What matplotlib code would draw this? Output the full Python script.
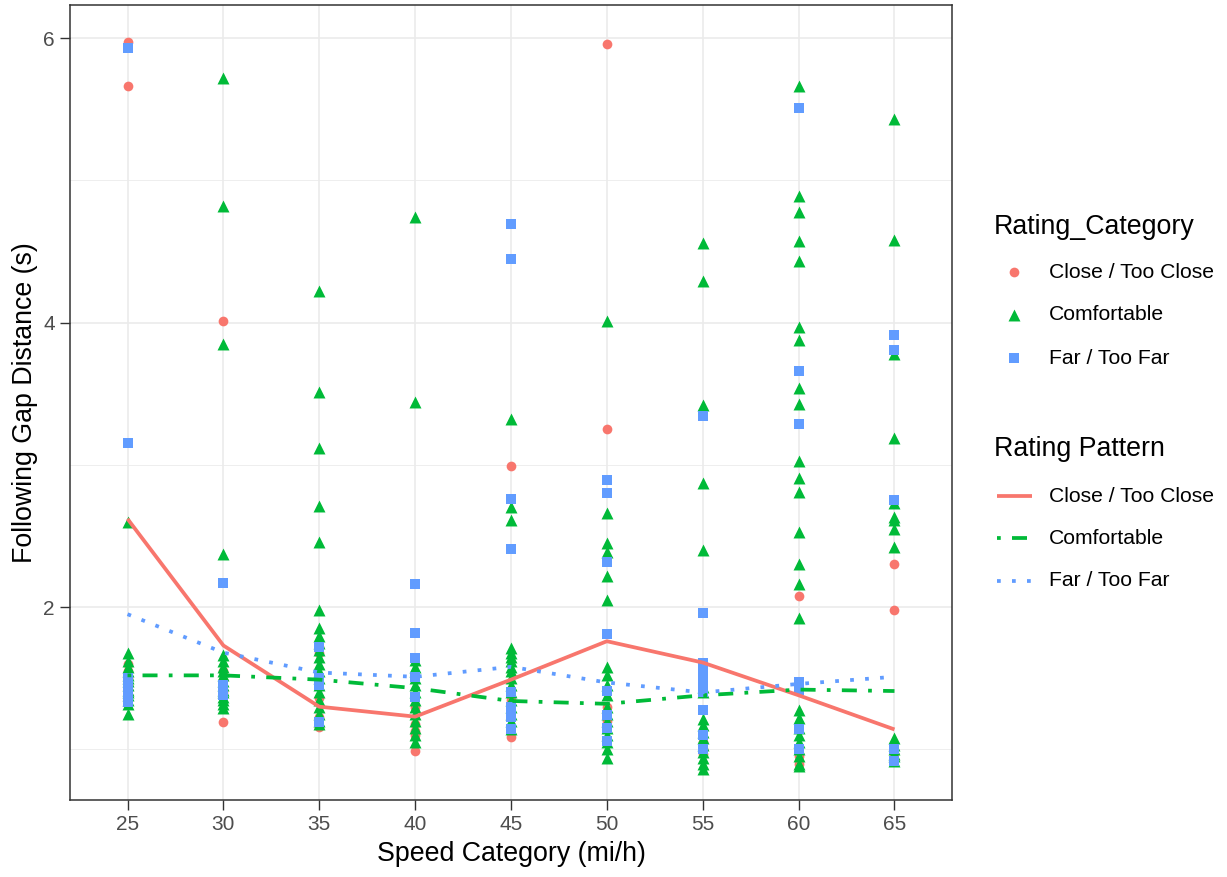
import matplotlib
matplotlib.use("Agg")
import matplotlib.pyplot as plt
from matplotlib.lines import Line2D

plt.rcParams['font.family'] = ['Liberation Sans', 'DejaVu Sans']

speeds = [25, 30, 35, 40, 45, 50, 55, 60, 65]

close_pts = [
    [5.97, 5.66, 1.60, 1.55, 1.50, 1.45, 1.42, 1.38],
    [4.01, 1.55, 1.49, 1.40, 1.19],
    [1.72, 1.68, 1.36, 1.23, 1.16],
    [1.30, 1.18, 1.13, 1.10, 0.99],
    [2.99, 1.42, 1.35, 1.09],
    [5.96, 3.25, 1.30, 1.20],
    [1.05, 1.00, 0.97],
    [2.08, 0.95, 0.90],
    [2.30, 1.98, 0.97],
]
comfortable_pts = [
    [2.60, 1.68, 1.62, 1.58, 1.55, 1.52, 1.50, 1.48, 1.45, 1.42, 1.40, 1.38, 1.35, 1.32, 1.25],
    [5.72, 4.82, 3.85, 2.37, 1.66, 1.62, 1.58, 1.55, 1.52, 1.48, 1.45, 1.42, 1.40, 1.37, 1.35, 1.32, 1.29],
    [4.22, 3.51, 3.12, 2.71, 2.46, 1.98, 1.85, 1.80, 1.75, 1.70, 1.65, 1.60, 1.55, 1.50, 1.45, 1.40, 1.35, 1.30, 1.25, 1.20, 1.18],
    [4.74, 3.44, 1.63, 1.58, 1.55, 1.50, 1.45, 1.40, 1.35, 1.30, 1.25, 1.20, 1.15, 1.10, 1.05],
    [3.32, 2.70, 2.61, 1.71, 1.68, 1.65, 1.62, 1.58, 1.55, 1.50, 1.45, 1.40, 1.35, 1.30, 1.25, 1.20, 1.14],
    [4.01, 2.66, 2.45, 2.39, 2.22, 2.05, 1.58, 1.52, 1.45, 1.38, 1.30, 1.25, 1.20, 1.15, 1.10, 1.05, 1.00, 0.94],
    [4.56, 4.29, 3.42, 2.87, 2.40, 1.44, 1.40, 1.21, 1.17, 1.12, 1.08, 1.03, 0.98, 0.94, 0.90, 0.86],
    [5.66, 4.89, 4.78, 4.57, 4.43, 3.97, 3.88, 3.54, 3.43, 3.03, 2.91, 2.81, 2.53, 2.30, 2.16, 1.92,
     1.28, 1.22, 1.15, 1.10, 1.05, 1.00, 0.95, 0.90, 0.88],
    [5.43, 4.58, 3.78, 3.19, 2.73, 2.63, 2.61, 2.55, 2.42, 1.08, 1.03, 1.00, 0.97, 0.95, 0.92],
]
far_pts = [
    [5.93, 3.15, 1.50, 1.45, 1.40, 1.35, 1.33],
    [2.17, 1.45, 1.38],
    [1.72, 1.50, 1.45, 1.19],
    [2.16, 1.82, 1.64, 1.51, 1.37],
    [4.69, 4.45, 2.76, 2.41, 1.40, 1.30, 1.23, 1.14],
    [2.89, 2.80, 2.32, 1.81, 1.41, 1.24, 1.15, 1.06],
    [3.34, 1.96, 1.61, 1.55, 1.50, 1.45, 1.40, 1.28, 1.10, 1.00],
    [5.51, 3.66, 3.29, 1.47, 1.42, 1.14, 1.00],
    [3.91, 3.81, 2.75, 1.00, 0.92],
]

close_line = [2.62, 1.73, 1.30, 1.23, 1.49, 1.76, 1.61, 1.38, 1.14]
comfortable_line = [1.52, 1.52, 1.49, 1.43, 1.34, 1.32, 1.38, 1.42, 1.41]
far_line = [1.95, 1.68, 1.54, 1.51, 1.58, 1.47, 1.40, 1.46, 1.51]

categories = ["Close / Too Close", "Comfortable", "Far / Too Far"]
colors = ["#F8766D", "#00BA38", "#619CFF"]
markers = ["o", "^", "s"]
msizes = [7.0, 8.6, 6.9]
dash_styles = ["-", (0, (1, 3, 4, 3)), (0, (1, 3))]

W, H = 1227, 877
fig = plt.figure(figsize=(W / 100, H / 100), dpi=100)
L, R, T, B = 70, 952, 5, 800
ax = fig.add_axes([L / W, 1 - B / H, (R - L) / W, (B - T) / H])

pos = list(range(len(speeds)))
ax.set_xlim(-0.6, len(speeds) - 1 + 0.6)
ax.set_ylim(0.644, 6.232)

# grid
for y in [1, 3, 5]:
    ax.axhline(y, color="#EBEBEB", lw=0.6, zorder=0)
for y in [2, 4, 6]:
    ax.axhline(y, color="#EBEBEB", lw=1.2, zorder=0)
for x in pos:
    ax.axvline(x, color="#EBEBEB", lw=1.2, zorder=0)

# points
for pts, c, m, ms in zip([close_pts, comfortable_pts, far_pts], colors, markers, msizes):
    xs, ys = [], []
    for i, vals in enumerate(pts):
        xs += [pos[i]] * len(vals)
        ys += vals
    ax.scatter(xs, ys, s=ms ** 2, c=c, marker=m, linewidths=0, zorder=2)

# lines
for ln, c, ds in zip([close_line, comfortable_line, far_line], colors, dash_styles):
    ax.plot(pos, ln, color=c, lw=2.7, linestyle=ds, dash_capstyle="butt",
            solid_capstyle="butt", zorder=3)

ax.set_xticks(pos)
ax.set_xticklabels([str(s) for s in speeds])
ax.set_yticks([2, 4, 6])
ax.set_yticklabels(["2", "4", "6"])
ax.tick_params(axis="both", length=7, width=1.0, color="#333333", labelcolor="#4D4D4D",
               labelsize=15, pad=4)
for sp in ax.spines.values():
    sp.set_color("#333333")
    sp.set_linewidth(1.1)

ax.set_xlabel("Speed Category (mi/h)", fontsize=19.3, labelpad=5)
ax.set_ylabel("Following Gap Distance (s)", fontsize=19.3, labelpad=4)

# legends (drawn in a pixel-coordinate overlay)
lax = fig.add_axes([0, 0, 1, 1])
lax.set_xlim(0, W)
lax.set_ylim(H, 0)
lax.axis("off")

lax.text(994, 227, "Rating_Category", fontsize=19.3, va="center", ha="left")
for k, (lab, c, m, ms) in enumerate(zip(categories, colors, markers, msizes)):
    y = [272, 315, 358][k]
    lax.scatter([1014], [y], s=ms ** 2, c=c, marker=m, linewidths=0)
    lax.text(1049, y, lab, fontsize=15.2, va="center", ha="left")

lax.text(994, 449, "Rating Pattern", fontsize=19.3, va="center", ha="left")
for k, (lab, c, ds) in enumerate(zip(categories, colors, dash_styles)):
    y = [496, 538, 581][k]
    lax.add_line(Line2D([997, 1032], [y, y], color=c, lw=2.7, linestyle=ds,
                        dash_capstyle="butt", solid_capstyle="butt"))
    lax.text(1049, y, lab, fontsize=15.2, va="center", ha="left")

fig.savefig("out.png", dpi=100)
